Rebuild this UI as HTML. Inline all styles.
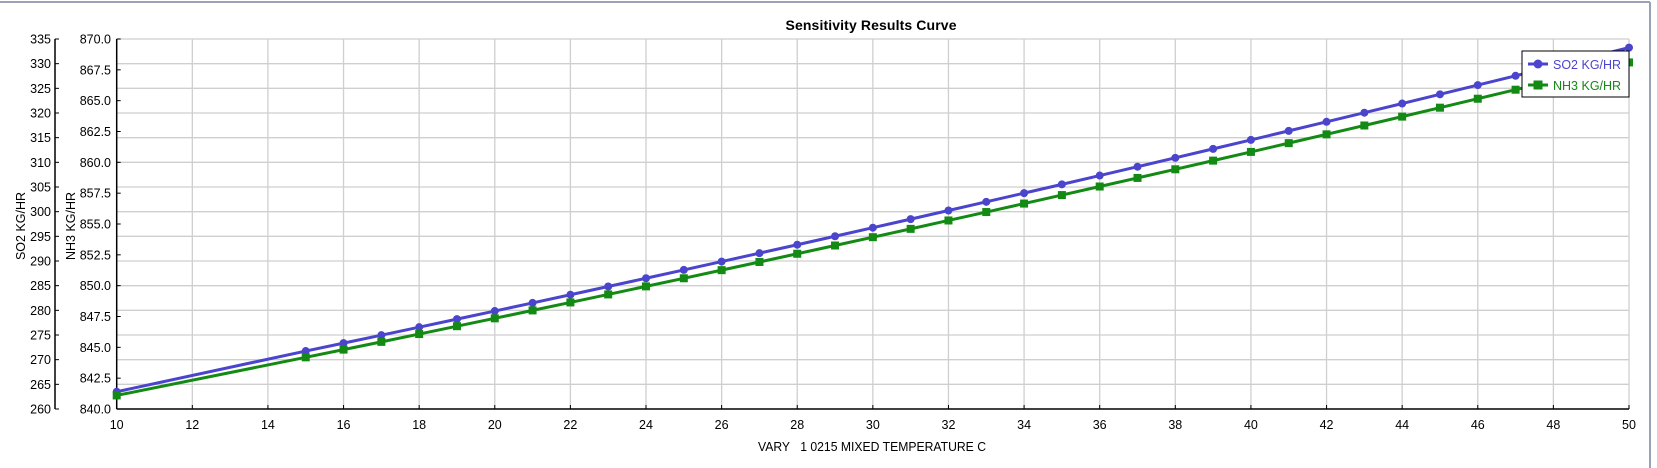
<!DOCTYPE html>
<html><head><meta charset="utf-8"><style>
html,body{margin:0;padding:0;background:#fff;}
svg{display:block;font-family:"Liberation Sans",sans-serif;}
</style></head><body>
<svg id="s" width="1657" height="468" xmlns="http://www.w3.org/2000/svg">
<rect width="1657" height="468" fill="#fff"/>
<line x1="0" y1="2" x2="1650" y2="2" stroke="#9aa3b5" stroke-width="2"/>
<line x1="1650" y1="2" x2="1650" y2="468" stroke="#9aa3b5" stroke-width="2"/>
<text x="871" y="30" font-size="14" font-weight="bold" text-anchor="middle" textLength="171">Sensitivity Results Curve</text>
<g id="grid"></g>
<g id="axes"></g>
<g id="series"></g>
<text x="872" y="451" font-size="12.5" text-anchor="middle" textLength="228" lengthAdjust="spacingAndGlyphs">VARY&#160;&#160;&#160;1 0215 MIXED TEMPERATURE C</text>
<text transform="translate(25,226) rotate(-90)" font-size="12.5" text-anchor="middle">SO2 KG/HR</text>
<text transform="translate(75,226) rotate(-90)" font-size="12.5" text-anchor="middle">NH3 KG/HR</text>
<g>
<rect x="1522" y="51" width="107" height="46" fill="#fff" stroke="#000" stroke-width="1"/>
<line x1="1528" y1="64" x2="1548" y2="64" stroke="#4b44cc" stroke-width="3"/>
<circle cx="1538" cy="64" r="4.5" fill="#4b44cc"/>
<text x="1553" y="69" font-size="12.5" fill="#4b44cc">SO2 KG/HR</text>
<line x1="1528" y1="85" x2="1548" y2="85" stroke="#138a13" stroke-width="3"/>
<rect x="1533.5" y="80.5" width="9" height="9" fill="#138a13"/>
<text x="1553" y="90" font-size="12.5" fill="#138a13">NH3 KG/HR</text>
</g>
</svg>
<script>
(function(){
var NS="http://www.w3.org/2000/svg";
function el(p,t,a,txt){var e=document.createElementNS(NS,t);for(var k in a)e.setAttribute(k,a[k]);if(txt!=null)e.textContent=txt;p.appendChild(e);return e;}
var X0=116.7,X1=1629,Y0=409,Y1=39;
function px(x){return X0+(x-10)/40*(X1-X0);}
function py(v){return Y0-(v-840)/30*(Y0-Y1);}
var g=document.getElementById("grid"),a=document.getElementById("axes"),s=document.getElementById("series");
for(var x=12;x<=50;x+=2){el(g,"line",{x1:px(x),y1:Y1,x2:px(x),y2:Y0,stroke:"#cfcfcf","stroke-width":1.3});}
for(var i=1;i<=15;i++){var y=Y0-i*(Y0-Y1)/15;el(g,"line",{x1:X0,y1:y,x2:X1,y2:y,stroke:"#cfcfcf","stroke-width":1.3});}
el(a,"line",{x1:X0,y1:Y1,x2:X0,y2:Y0,stroke:"#000","stroke-width":1.5});
el(a,"line",{x1:X0,y1:Y0,x2:X1,y2:Y0,stroke:"#000","stroke-width":1.5});
el(a,"line",{x1:55,y1:Y1,x2:55,y2:Y0,stroke:"#000","stroke-width":1.5});
for(var x=10;x<=50;x+=2){el(a,"line",{x1:px(x),y1:Y0,x2:px(x),y2:Y0-4,stroke:"#000"});el(a,"text",{x:px(x),y:429,"font-size":12.5,"text-anchor":"middle"},String(x));}
for(var i=0;i<=12;i++){var v=840+i*2.5,y=py(v);el(a,"line",{x1:X0,y1:y,x2:X0+4,y2:y,stroke:"#000"});el(a,"text",{x:111,y:y+4.5,"font-size":12.5,"text-anchor":"end"},v.toFixed(1));}
for(var i=0;i<=15;i++){var v=260+i*5,y=Y0-i*(Y0-Y1)/15;el(a,"line",{x1:55,y1:y,x2:59,y2:y,stroke:"#000"});el(a,"text",{x:51,y:y+4.5,"font-size":12.5,"text-anchor":"end"},String(v));}
function quad(p){return function(x){var r=0;for(var i=0;i<3;i++){var t=p[i][1];for(var j=0;j<3;j++)if(j!=i)t*=(x-p[j][0])/(p[i][0]-p[j][0]);r+=t;}return r;};}
var so=quad([[15,844.7],[30,854.7],[50,869.3]]),nh=quad([[15,844.19],[30,853.93],[50,868.1]]);
var xs=[10];for(var x=15;x<=50;x++)xs.push(x);
function draw(f,v10,col,sq){var pts=xs.map(function(x){return [px(x),py(x==10?v10:f(x))];});
el(s,"polyline",{points:pts.map(function(p){return p.join(",");}).join(" "),fill:"none",stroke:col,"stroke-width":3});
pts.forEach(function(p){if(sq)el(s,"rect",{x:p[0]-4,y:p[1]-4,width:8,height:8,fill:col});else el(s,"circle",{cx:p[0],cy:p[1],r:4,fill:col});});}
draw(so,841.4,"#4b44cc",false);
draw(nh,841.1,"#138a13",true);
})();
</script>
</body></html>
